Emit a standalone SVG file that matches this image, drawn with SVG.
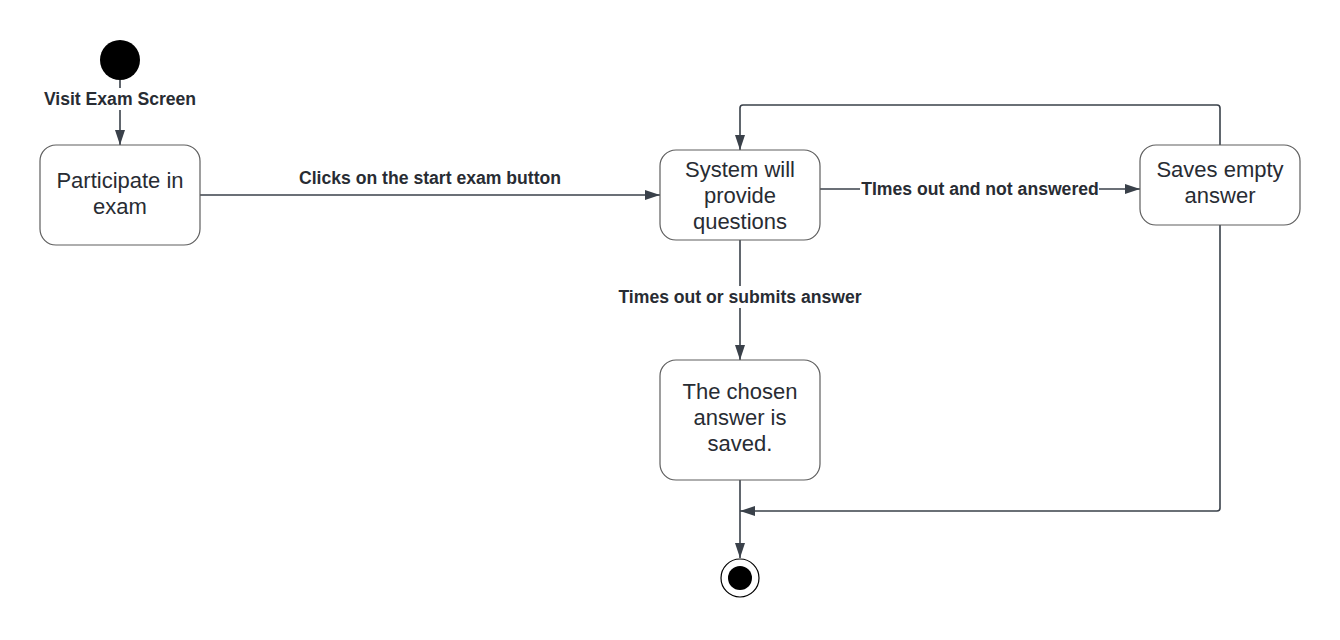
<svg xmlns="http://www.w3.org/2000/svg" width="1340" height="640" viewBox="0 0 1340 640">
<defs>
<marker id="arr" markerWidth="16" markerHeight="10" refX="15" refY="5" orient="auto" markerUnits="userSpaceOnUse">
<path d="M0,0 L15,5 L0,10 Z" fill="#3a414a"/>
</marker>
<style>
.box{fill:#fff;stroke:#5e5e5e;stroke-width:1.2}
.node{font-family:"Liberation Sans",Arial,sans-serif;font-size:22px;fill:#282c33;text-anchor:middle}
.lbl{font-family:"Liberation Sans",Arial,sans-serif;font-size:17.6px;font-weight:bold;fill:#282c33;text-anchor:middle}
.ln{fill:none;stroke:#3a414a;stroke-width:1.6}
.bg{fill:#fff}
</style>
</defs>
<rect width="1340" height="640" fill="#fff"/>
<g id="connectors">
<path class="ln" d="M120,80 V145" marker-end="url(#arr)"/>
<path class="ln" d="M200,195 H660" marker-end="url(#arr)"/>
<path class="ln" d="M820,189 H1140" marker-end="url(#arr)"/>
<path class="ln" d="M740,240 V360" marker-end="url(#arr)"/>
<path class="ln" d="M1220,145 V108 Q1220,105 1217,105 H743 Q740,105 740,108 V150" marker-end="url(#arr)"/>
<path class="ln" d="M1220,225 V508 Q1220,511 1217,511 H740" marker-end="url(#arr)"/>
<path class="ln" d="M740,480 V558" marker-end="url(#arr)"/>
<rect class="bg" x="38" y="88" width="164" height="22"/>
<text class="lbl" x="120" y="105">Visit Exam Screen</text>
<text class="lbl" x="430" y="184">Clicks on the start exam button</text>
<rect class="bg" x="860" y="179" width="239" height="20"/>
<text class="lbl" x="980" y="195">TImes out and not answered</text>
<rect class="bg" x="616" y="286" width="248" height="22"/>
<text class="lbl" x="740" y="303">Times out or submits answer</text>
</g>
<g id="start"><circle cx="120" cy="60" r="20" fill="#000"/></g>
<g id="participate">
<rect class="box" x="40" y="145" width="160" height="100" rx="16"/>
<text class="node" x="120" y="188">Participate in</text>
<text class="node" x="120" y="214">exam</text>
</g>
<g id="system">
<rect class="box" x="660" y="150" width="160" height="90" rx="16"/>
<text class="node" x="740" y="177">System will</text>
<text class="node" x="740" y="203">provide</text>
<text class="node" x="740" y="229">questions</text>
</g>
<g id="saves">
<rect class="box" x="1140" y="145" width="160" height="80" rx="16"/>
<text class="node" x="1220" y="177">Saves empty</text>
<text class="node" x="1220" y="203">answer</text>
</g>
<g id="chosen">
<rect class="box" x="660" y="360" width="160" height="120" rx="16"/>
<text class="node" x="740" y="399">The chosen</text>
<text class="node" x="740" y="425">answer is</text>
<text class="node" x="740" y="451">saved.</text>
</g>
<g id="end">
<circle cx="740" cy="578" r="19" fill="#fff" stroke="#000" stroke-width="1.2"/>
<circle cx="740" cy="578" r="12" fill="#000"/>
</g>
</svg>
